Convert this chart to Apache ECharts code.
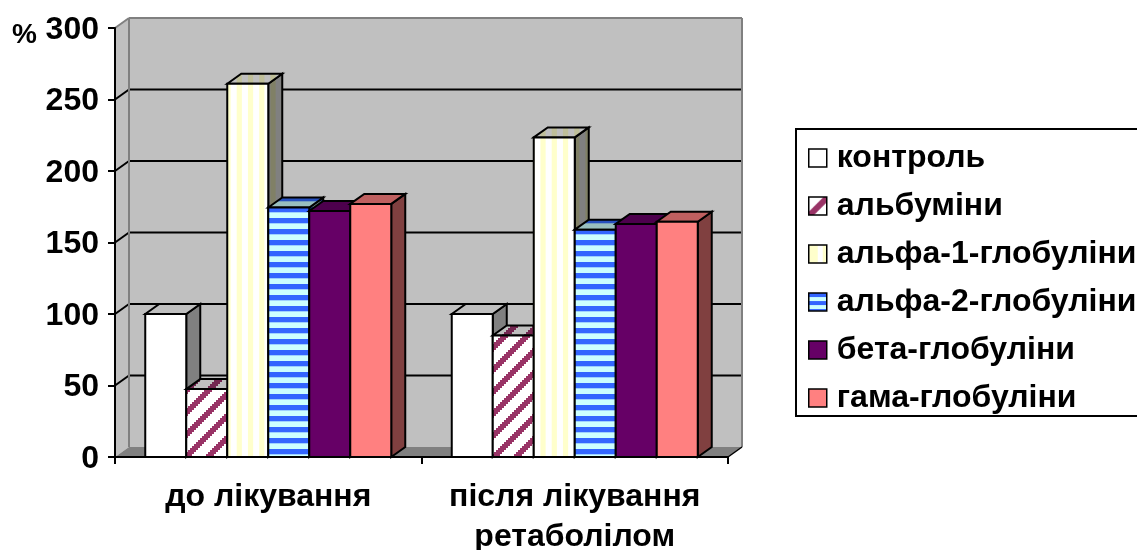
<!DOCTYPE html>
<html>
<head>
<meta charset="utf-8">
<style>html,body{margin:0;padding:0;background:#fff;overflow:hidden}#c{width:1137px;height:550px}</style>
<script src="https://cdn.jsdelivr.net/npm/echarts@6/dist/echarts.min.js"></script>
</head>
<body>
<div id="c"></div>
<script>
const categories = ['до лікування', 'після лікування\nретаболілом'];
const yTicks = [0, 50, 100, 150, 200, 250, 300];
const seriesNames = ['контроль', 'альбуміни', 'альфа-1-глобуліни', 'альфа-2-глобуліни', 'бета-глобуліни', 'гама-глобуліни'];
const control = [100, 100];
const albumin = [47.5, 85];
const alpha1 = [261, 223.5];
const alpha2 = [174.5, 159];
const beta = [172, 163];
const gamma = [177, 164.5];
const allValues = [control, albumin, alpha1, alpha2, beta, gamma];

const FONT = '"Liberation Sans", Arial, sans-serif';
const DX = 14, DY = -10;

function mk(w, h, draw) {
  const c = document.createElement('canvas');
  c.width = w; c.height = h;
  draw(c.getContext('2d'));
  return { image: c, repeat: 'repeat' };
}
function vStripes(bg, fg) {
  return mk(45, 4, g => {
    g.fillStyle = bg; g.fillRect(0, 0, 45, 4);
    g.fillStyle = fg;
    for (let i = 0; i < 5; i++) g.fillRect(0.45 + i * 11.25, 0, 5.2, 4);
  });
}
function hStripes(bg, fg) {
  return mk(4, 11, g => {
    g.fillStyle = bg; g.fillRect(0, 0, 4, 11);
    g.fillStyle = fg;
    g.fillRect(0, 9, 4, 2); g.fillRect(0, 0, 4, 3.3);
  });
}
function diag(bg, fg, period, width, phase) {
  return mk(period, period, g => {
    g.fillStyle = bg; g.fillRect(0, 0, period, period);
    g.fillStyle = fg;
    const b = 2;
    for (let y = 0; y < period; y += b) for (let x = 0; x < period; x += b) {
      if (((x + y - phase) % period + period) % period < width) g.fillRect(x, y, b, b);
    }
  });
}
const faces = [
  { front: '#ffffff', top: '#bfbfbf', side: '#808080' },
  { front: diag('#ffffff', '#993366', 22, 8, 21), top: diag('#bfbfbf', '#732650', 22, 8, 21), side: diag('#808080', '#4d1a33', 22, 8, 21) },
  { front: vStripes('#ffffff', '#ffffcc'), top: vStripes('#bfbfbf', '#bfbf99'), side: vStripes('#808080', '#808066') },
  { front: hStripes('#ccffff', '#3366ff'), top: hStripes('#99bfbf', '#2650bf'), side: hStripes('#668080', '#1a3380') },
  { front: '#660066', top: '#4d004d', side: '#330033' },
  { front: '#ff8080', top: '#bf6060', side: '#804040' }
];

const legendKeys = [
  '#ffffff',
  mk(19, 19, g => { g.fillStyle = '#fff'; g.fillRect(0, 0, 19, 19); g.strokeStyle = '#993366'; g.lineWidth = 6; g.beginPath(); g.moveTo(-2, 21); g.lineTo(21, -2); g.stroke(); }),
  mk(19, 19, g => { g.fillStyle = '#ffffcc'; g.fillRect(0, 0, 19, 19); g.fillStyle = '#fff'; g.fillRect(9, 0, 5, 19); }),
  mk(19, 19, g => { g.fillStyle = '#ccffff'; g.fillRect(0, 0, 19, 19); g.fillStyle = '#3366ff'; g.fillRect(0, 0, 19, 4); g.fillRect(0, 8, 19, 4); g.fillRect(0, 16, 19, 4); }),
  '#660066',
  '#ff8080'
];

function wallsItem(params, api) {
  const cs = params.coordSys;
  const l = cs.x, r = cs.x + cs.width, t = cs.y, b = cs.y + cs.height;
  const poly = (points, fill) => ({ type: 'polygon', shape: { points }, style: { fill } });
  const line = (a, c, stroke, lw) => ({ type: 'line', shape: { x1: a[0], y1: a[1], x2: c[0], y2: c[1] }, style: { stroke, lineWidth: lw } });
  const kids = [
    poly([[l, t], [l + DX, t + DY], [l + DX, b + DY], [l, b]], '#c0c0c0'),
    poly([[l + DX, t + DY], [r + DX, t + DY], [r + DX, b + DY], [l + DX, b + DY]], '#c0c0c0'),
    poly([[l, b], [l + DX, b + DY], [r + DX, b + DY], [r, b]], '#808080')
  ];
  yTicks.forEach(v => {
    if (v === 0 || v === 300) return;
    const y = api.coord([0, v])[1];
    kids.push(line([l + DX, y + DY], [r + DX, y + DY], '#000', 2));
    kids.push(line([l, y], [l + DX, y + DY], '#000', 2));
  });
  kids.push(line([l + DX, t + DY], [r + DX, t + DY], '#808080', 2));
  kids.push(line([r + DX, t + DY], [r + DX, b + DY], '#808080', 2));
  kids.push(line([l + DX, t + DY], [l + DX, b + DY], '#808080', 2));
  kids.push(line([l, t], [l + DX, t + DY], '#808080', 2));
  kids.push(line([r, b], [r + DX, b + DY], '#000', 1.5));
  return { type: 'group', silent: true, children: kids };
}

function barItemFactory(si) {
  return function (params, api) {
    const idx = api.value(0), val = api.value(1);
    const base = api.coord([idx, 0]);
    const top = api.coord([idx, val]);
    const w = api.size([1, 0])[0] * 41 / 306.5;
    const x0 = base[0] + (si - 3) * w, x1 = x0 + w;
    const y0 = base[1], y1 = top[1];
    const f = faces[si];
    const st = { stroke: '#000', lineWidth: 2, lineJoin: 'miter' };
    return {
      type: 'group',
      children: [
        { type: 'polygon', shape: { points: [[x1, y0], [x1 + DX, y0 + DY], [x1 + DX, y1 + DY], [x1, y1]] }, style: Object.assign({ fill: f.side }, st) },
        { type: 'polygon', shape: { points: [[x0, y1], [x0 + DX, y1 + DY], [x1 + DX, y1 + DY], [x1, y1]] }, style: Object.assign({ fill: f.top }, st) },
        { type: 'polygon', shape: { points: [[x0, y0], [x1, y0], [x1, y1], [x0, y1]] }, style: Object.assign({ fill: f.front }, st) }
      ]
    };
  };
}

const chart = echarts.init(document.getElementById('c'), null, { renderer: 'canvas' });
const barSeries = seriesNames.map((name, si) => ({
  type: 'custom',
  name,
  coordinateSystem: 'cartesian2d',
  z: 3,
  clip: false,
  itemStyle: { color: legendKeys[si] },
  encode: { x: 0, y: 1 },
  data: allValues[si].map((v, i) => [i, v]),
  renderItem: barItemFactory(si)
}));

chart.setOption({
  animation: false,
  backgroundColor: '#ffffff',
  title: {
    text: '%', left: 7, top: 16,
    textStyle: { fontFamily: FONT, fontWeight: 'bold', fontSize: 28, color: '#000' }
  },
  grid: { left: 115, top: 28, width: 613, height: 429, containLabel: false, outerBoundsMode: 'none' },
  legend: {
    orient: 'vertical',
    left: 796, top: 129,
    padding: [13, 12, 2, 12],
    icon: 'rect',
    itemWidth: 18, itemHeight: 18,
    itemGap: 16,
    backgroundColor: '#fff',
    borderColor: '#000', borderWidth: 2,
    itemStyle: { borderColor: '#000', borderWidth: 1.5 },
    textStyle: { fontFamily: FONT, fontWeight: 'bold', fontSize: 32, color: '#000', padding: [0, 0, 0, 5] },
    data: seriesNames.map((name, i) => ({ name, itemStyle: { color: legendKeys[i], borderColor: '#000', borderWidth: 1.5 } }))
  },
  xAxis: {
    type: 'category',
    data: categories,
    z: 10,
    axisLine: { lineStyle: { color: '#000', width: 2 } },
    axisTick: { show: true, length: 7, alignWithLabel: false, lineStyle: { color: '#000', width: 2 } },
    axisLabel: { fontFamily: FONT, fontWeight: 'bold', fontSize: 32, color: '#000', margin: 20, lineHeight: 40, interval: 0 }
  },
  yAxis: {
    type: 'value', min: 0, max: 300, interval: 50,
    z: 10,
    splitLine: { show: false },
    axisLine: { show: true, lineStyle: { color: '#000', width: 2 } },
    axisTick: { show: true, length: 7, lineStyle: { color: '#000', width: 2 } },
    axisLabel: {
      margin: 16,
      formatter: '{a|{value}}',
      rich: { a: { fontFamily: FONT, fontWeight: 'bold', fontSize: 32, color: '#000', padding: [4, 0, 0, 0] } }
    }
  },
  series: [{
    type: 'custom', coordinateSystem: 'cartesian2d', z: 1, silent: true, clip: false,
    encode: { x: 0, y: 1 }, data: [[0, 0]], renderItem: wallsItem
  }].concat(barSeries)
});
</script>
</body>
</html>
